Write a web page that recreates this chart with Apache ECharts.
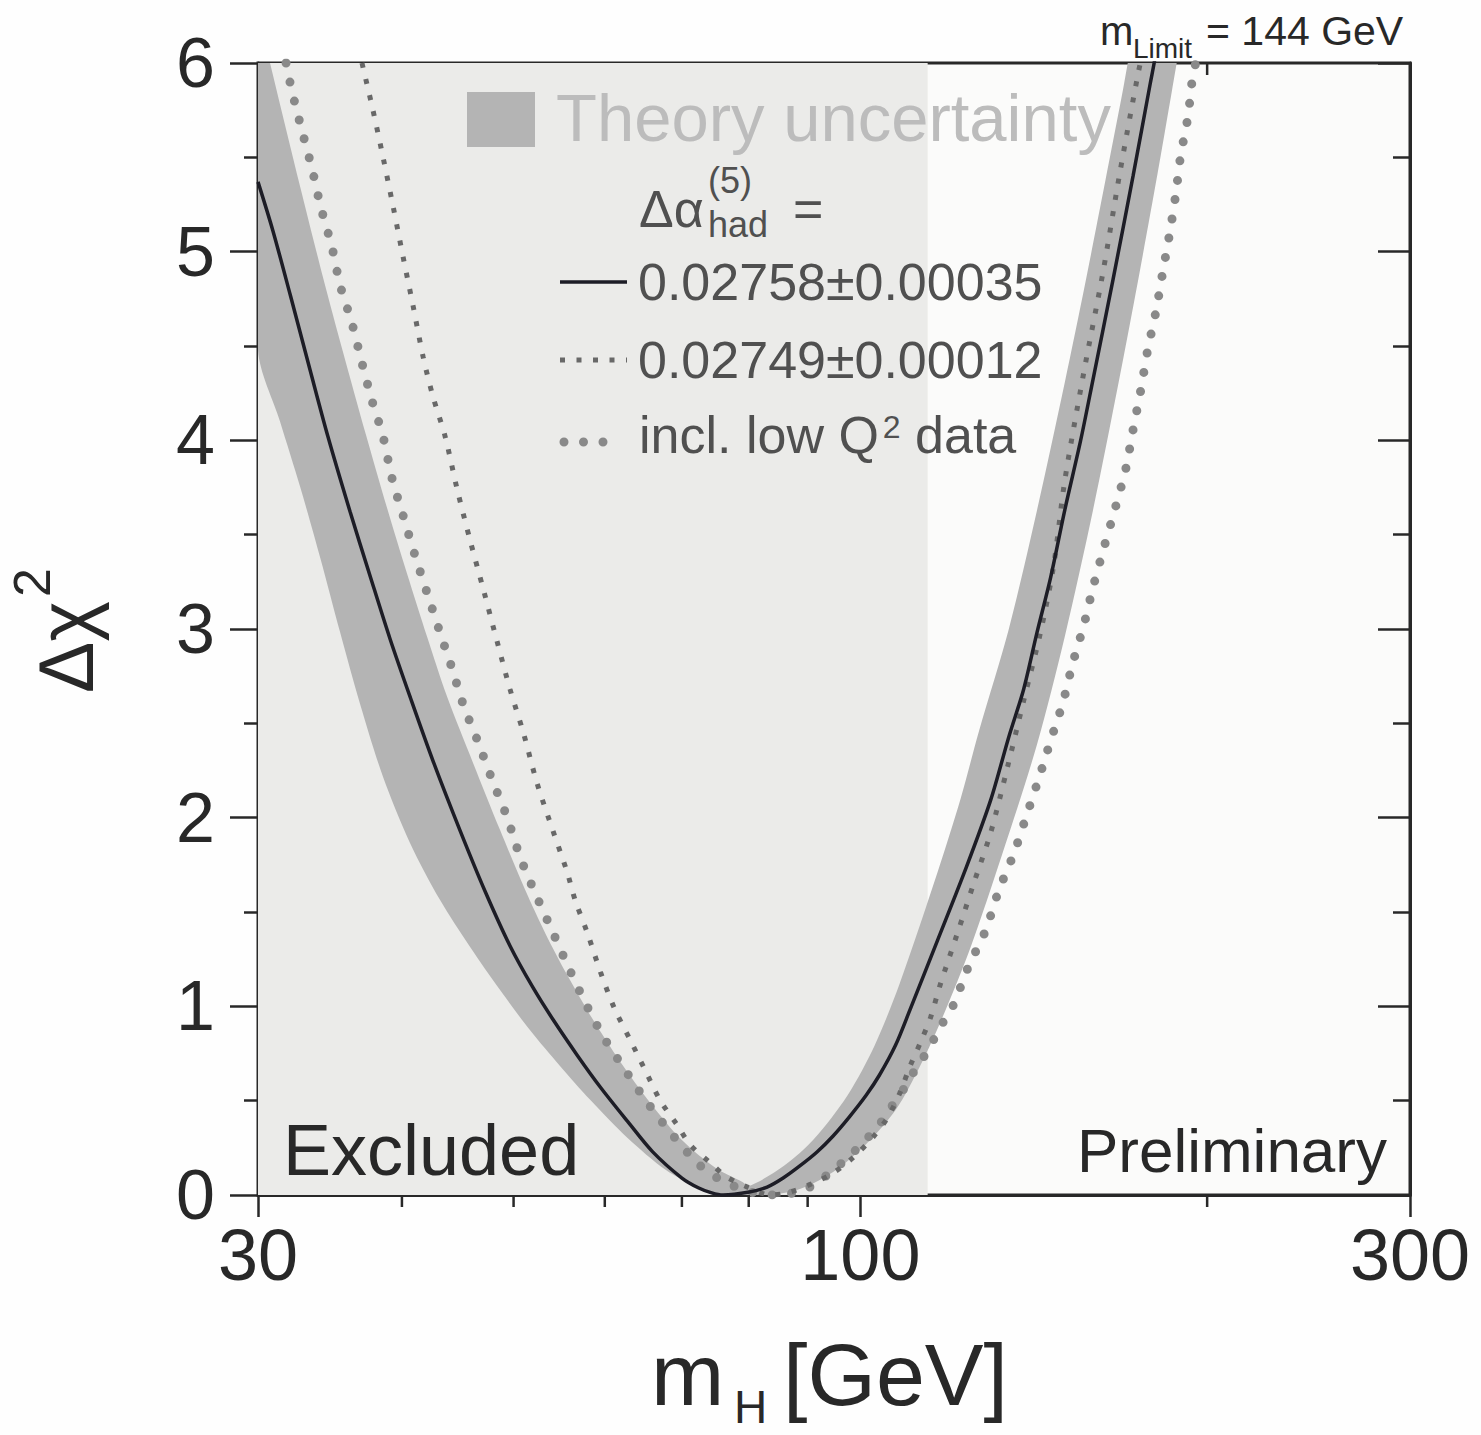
<!DOCTYPE html>
<html>
<head>
<meta charset="utf-8">
<title>Δχ² vs m_H</title>
<script src="https://cdn.jsdelivr.net/npm/echarts/dist/echarts.min.js"></script>
<style>
  html, body { margin: 0; padding: 0; background: #fefefe; }
  #chart { width: 1481px; height: 1435px; }
</style>
</head>
<body>
<div id="chart"></div>
<script>
// ---- axis ranges and ticks ----
const massRange = [30, 300];
const chi2Range = [0, 6];
const massLabels = [30, 100, 300];
const massMajorTicks = [30, 100, 300];
const massMinorTicks = [40, 50, 60, 70, 80, 90, 200];
const massTopTicks = [200];
const excludedRange = [30, 114.4];   // direct search exclusion, GeV

// ---- theory uncertainty band: upper and lower envelope [mH, Δχ²] ----
const bandUpper = [
  [30.0, 6.27], [30.73, 6.0], [32.65, 5.34], [34.16, 4.865], [35.56, 4.467], [37.23, 4.028],
  [38.83, 3.641], [40.42, 3.291], [42.07, 2.957], [43.79, 2.639], [46.12, 2.289], [48.67, 1.934],
  [51.18, 1.616], [53.27, 1.388], [55.66, 1.166], [58.63, 0.927], [61.9, 0.705], [65.72, 0.488],
  [70.0, 0.291], [74.9, 0.143], [79.0, 0.069], [80.1, 0.048], [85.9, 0.156], [91.06, 0.294],
  [97.45, 0.528], [102.9, 0.793], [108.2, 1.123], [116.7, 1.712], [122.2, 2.102], [126.8, 2.462],
  [134.5, 2.996], [142.3, 3.626], [150.5, 4.309], [156.7, 4.828], [163.1, 5.369], [169.0, 5.855],
  [170.7, 6.004], [172.0, 6.1]
];
const bandLower = [
  [30.0, 4.48], [31.35, 4.10], [32.65, 3.75], [34.0, 3.37], [35.36, 2.98], [36.8, 2.60],
  [38.5, 2.22], [40.66, 1.865], [43.17, 1.563], [45.84, 1.314], [48.67, 1.086], [51.66, 0.874],
  [54.86, 0.684], [58.3, 0.503], [62.8, 0.302], [67.8, 0.132], [72.4, 0.037], [74.9, 0.0],
  [83.0, 0.0], [88.6, 0.032], [94.7, 0.122], [101.0, 0.265], [107.3, 0.45], [112.79, 0.689],
  [117.9, 0.945], [124.7, 1.316], [132.8, 1.807], [142.3, 2.385], [150.5, 2.962], [159.2, 3.63],
  [167.4, 4.293], [174.3, 4.854], [181.1, 5.411], [185.9, 5.81], [188.2, 6.001], [189.5, 6.1]
];

// ---- Δα_had = 0.02758 ± 0.00035 (solid) ----
const fitCurve = [
  [30.0, 5.37], [30.91, 5.11], [32.0, 4.77], [33.3, 4.37], [34.5, 4.02], [36.07, 3.62],
  [37.54, 3.28], [39.05, 2.95], [40.66, 2.64], [42.57, 2.30], [44.94, 1.93], [47.23, 1.61],
  [49.65, 1.32], [51.97, 1.10], [54.1, 0.93], [56.8, 0.74], [59.5, 0.57], [62.8, 0.39],
  [66.0, 0.23], [70.0, 0.09], [72.4, 0.037], [74.3, 0.011], [76.0, 0.0], [80.1, 0.016],
  [83.0, 0.042], [85.7, 0.09], [88.6, 0.154], [91.7, 0.228], [94.7, 0.313], [97.8, 0.413],
  [101.2, 0.53], [103.9, 0.636], [107.3, 0.795], [110.4, 0.98], [116.7, 1.351], [123.6, 1.738],
  [129.75, 2.093], [134.6, 2.432], [138.6, 2.681], [142.3, 2.978], [146.3, 3.275], [150.5, 3.633],
  [155.3, 3.998], [159.2, 4.322], [165.7, 4.852], [172.5, 5.403], [178.6, 5.899], [179.9, 6.0],
  [181.0, 6.1]
];

// ---- Δα_had = 0.02749 ± 0.00012 (small dots) ----
const fitCurveAlt = [
  [36.93, 6.0], [37.75, 5.75], [38.52, 5.50], [39.3, 5.24], [40.1, 4.97], [40.91, 4.71],
  [41.74, 4.44], [42.57, 4.23], [43.61, 4.02], [44.67, 3.74], [45.84, 3.47], [47.07, 3.21],
  [48.4, 2.93], [49.65, 2.68], [50.99, 2.45], [52.42, 2.18], [54.1, 1.93], [55.66, 1.71],
  [56.57, 1.56], [57.94, 1.39], [59.5, 1.18], [61.16, 0.99], [63.15, 0.82], [65.06, 0.66],
  [67.05, 0.50], [69.36, 0.37], [71.19, 0.265], [74.11, 0.17], [76.36, 0.10], [79.79, 0.042],
  [83.55, 0.0], [86.97, 0.016], [91.06, 0.064], [94.7, 0.117], [98.63, 0.20], [102.67, 0.31],
  [105.59, 0.41], [108.2, 0.54], [110.4, 0.68], [112.79, 0.81], [115.05, 0.94], [117.38, 1.12],
  [121.45, 1.39], [125.4, 1.65], [129.75, 1.92], [134.22, 2.27], [138.6, 2.62], [143.32, 2.98],
  [147.1, 3.33], [150.5, 3.79], [156.3, 4.36], [162.4, 4.89], [168.0, 5.42], [174.3, 5.95],
  [176.5, 6.1]
];

// ---- including low-Q² data (large dots) ----
const fitCurveLowQ2 = [
  [31.73, 6.0], [32.11, 5.85], [32.76, 5.64], [33.42, 5.44], [34.0, 5.24], [34.79, 5.02],
  [35.36, 4.82], [36.2, 4.62], [36.93, 4.41], [37.68, 4.21], [38.52, 4.02], [39.21, 3.80],
  [40.1, 3.60], [41.06, 3.39], [42.07, 3.19], [43.17, 2.98], [44.22, 2.79], [45.21, 2.60],
  [46.58, 2.40], [47.91, 2.20], [49.37, 2.00], [50.67, 1.79], [52.21, 1.60], [54.01, 1.40],
  [55.77, 1.21], [57.7, 1.02], [59.81, 0.84], [62.53, 0.66], [65.33, 0.49], [68.66, 0.32],
  [72.18, 0.17], [74.9, 0.095], [77.58, 0.048], [80.1, 0.016], [84.39, 0.0], [88.2, 0.016],
  [91.06, 0.053], [94.7, 0.132], [97.65, 0.20], [100.6, 0.28], [103.5, 0.36], [106.2, 0.46],
  [109.0, 0.56], [111.2, 0.65], [113.46, 0.73], [115.7, 0.82], [118.1, 0.92], [120.5, 1.01],
  [124.1, 1.21], [128.4, 1.40], [131.8, 1.61], [135.9, 1.81], [139.2, 2.00], [142.9, 2.21],
  [146.3, 2.41], [149.9, 2.61], [152.9, 2.82], [156.3, 3.02], [159.2, 3.22], [162.7, 3.43],
  [166.6, 3.65], [170.0, 3.85], [172.4, 4.05], [175.2, 4.27], [177.6, 4.48], [180.5, 4.68],
  [183.0, 4.89], [185.6, 5.10], [187.8, 5.30], [189.7, 5.51], [192.4, 5.71], [194.4, 5.94],
  [195.5, 6.0]
];

// ---- styling ----
const FONT = '"Liberation Sans", Arial, Helvetica, sans-serif';
const INK = '#282828';
const colors = {
  plotBg: '#fbfbfa',
  excluded: '#ebebe9',
  band: '#b4b4b4',
  solid: '#1d1d26',
  smallDots: '#686868',
  bigDots: '#898989',
  legendText: '#505050',
  legendHeader: '#bcbcbc'
};
const solidStyle = { color: colors.solid, width: 3.5 };
const smallDotStyle = { color: colors.smallDots, width: 5, type: [5, 11.5], cap: 'butt' };
const bigDotStyle = { color: colors.bigDots, width: 9, type: [0, 19.5], cap: 'round' };

// text width, for placing the superscript in the legend
const measureCtx = document.createElement('canvas').getContext('2d');
function textWidth(text, size) {
  measureCtx.font = size + 'px ' + FONT;
  return measureCtx.measureText(text).width;
}

// baseline-positioned text helper (middle alignment offset from baseline)
function label(x, baseline, text, size, fill, align) {
  return {
    type: 'text', x: x, y: baseline - 0.35 * size, z: 100, silent: true,
    style: {
      text: text, font: size + 'px ' + FONT, fill: fill,
      align: align || 'left', textAlign: align || 'left',
      verticalAlign: 'middle', textVerticalAlign: 'middle'
    }
  };
}
function legendLine(x1, x2, y, st) {
  return {
    type: 'line', z: 100, silent: true,
    shape: { x1: x1, y1: y, x2: x2, y2: y },
    style: { stroke: st.color, lineWidth: st.width, lineDash: Array.isArray(st.type) ? st.type : null, lineCap: st.cap || 'butt' }
  };
}

const chart = echarts.init(document.getElementById('chart'), null, { renderer: 'svg' });

function tickRenderer(len) {
  return function (params, api) {
    const p = api.coord([api.value(0), api.value(1)]);
    return {
      type: 'line',
      shape: { x1: p[0], y1: p[1], x2: p[0], y2: p[1] + len },
      style: { stroke: INK, lineWidth: 2.5 }
    };
  };
}

// legend rows
const LEG = 52;
const lowQText = 'incl. low Q';
const lowQEnd = 639 + textWidth(lowQText, LEG);
const supEnd = lowQEnd + 4 + textWidth('2', 32);

const option = {
  animation: false,
  backgroundColor: '#fefefe',
  textStyle: { fontFamily: FONT },
  grid: {
    left: 258, right: 71, top: 63, bottom: 240,
    show: true, backgroundColor: colors.plotBg, borderColor: INK, borderWidth: 3
  },
  xAxis: {
    type: 'log', logBase: 10, min: massRange[0], max: massRange[1], position: 'bottom',
    axisLine: { show: true, onZero: false, lineStyle: { color: INK, width: 3 } },
    axisTick: { show: true, inside: false, length: 22, customValues: massMajorTicks, lineStyle: { color: INK, width: 2.5 } },
    axisLabel: { show: true, customValues: massLabels, fontSize: 72, color: INK, margin: 24, fontFamily: FONT },
    splitLine: { show: false }, minorTick: { show: false }, minorSplitLine: { show: false }
  },
  yAxis: [
    {
      type: 'value', min: chi2Range[0], max: chi2Range[1], interval: 1, position: 'left',
      axisLine: { show: true, onZero: false, lineStyle: { color: INK, width: 3 } },
      axisTick: { show: true, inside: false, length: 28, lineStyle: { color: INK, width: 2.5 } },
      minorTick: { show: true, splitNumber: 2, length: 14, lineStyle: { color: INK, width: 2.5 } },
      axisLabel: { fontSize: 70, color: INK, margin: 43, fontFamily: FONT },
      splitLine: { show: false }
    },
    {
      type: 'value', min: chi2Range[0], max: chi2Range[1], interval: 1, position: 'right',
      axisLine: { show: true, onZero: false, lineStyle: { color: INK, width: 3 } },
      axisTick: { show: true, inside: true, length: 32, lineStyle: { color: INK, width: 2.5 } },
      minorTick: { show: true, splitNumber: 2, length: 17, lineStyle: { color: INK, width: 2.5 } },
      axisLabel: { show: false },
      splitLine: { show: false }
    }
  ],
  series: [
    {
      // excluded mass region shading
      type: 'custom', name: 'Excluded', z: 1, silent: true,
      data: [[excludedRange[0], excludedRange[1], chi2Range[0], chi2Range[1]]],
      encode: { x: [0, 1], y: [2, 3] },
      renderItem: function (params, api) {
        const a = api.coord([api.value(0), api.value(3)]);
        const b = api.coord([api.value(1), api.value(2)]);
        return { type: 'rect', shape: { x: a[0], y: a[1], width: b[0] - a[0], height: b[1] - a[1] }, style: { fill: colors.excluded } };
      }
    },
    {
      // theory uncertainty band between the two envelopes
      type: 'custom', name: 'Theory uncertainty', z: 2, silent: true, clip: true,
      data: bandUpper, encode: { x: 0, y: 1 },
      renderItem: function (params, api) {
        if (params.dataIndex !== 0) return null;
        const pts = bandUpper.concat(bandLower.slice().reverse()).map(function (p) { return api.coord(p); });
        const cs = params.coordSys;
        return {
          type: 'polygon',
          shape: { points: pts, smooth: 0.3 },
          style: { fill: colors.band },
          clipPath: { type: 'rect', shape: { x: cs.x, y: cs.y, width: cs.width, height: cs.height } }
        };
      }
    },
    {
      type: 'line', name: 'incl. low Q2 data', data: fitCurveLowQ2, z: 3,
      showSymbol: false, symbol: 'none', smooth: 0.3, clip: true, silent: true,
      lineStyle: bigDotStyle
    },
    {
      type: 'line', name: '0.02749±0.00012', data: fitCurveAlt, z: 4,
      showSymbol: false, symbol: 'none', smooth: 0.3, clip: true, silent: true,
      lineStyle: smallDotStyle
    },
    {
      type: 'line', name: '0.02758±0.00035', data: fitCurve, z: 5,
      showSymbol: false, symbol: 'none', smooth: 0.3, clip: true, silent: true,
      lineStyle: solidStyle
    },
    {
      // short minor ticks along the bottom mass axis
      type: 'custom', name: 'minor ticks', z: 6, silent: true, clip: false,
      data: massMinorTicks.map(function (v) { return [v, chi2Range[0]]; }),
      encode: { x: 0, y: 1 },
      renderItem: tickRenderer(12)
    },
    {
      // tick hanging from the top frame
      type: 'custom', name: 'top ticks', z: 6, silent: true, clip: false,
      data: massTopTicks.map(function (v) { return [v, chi2Range[1]]; }),
      encode: { x: 0, y: 1 },
      renderItem: tickRenderer(12)
    }
  ],
  graphic: [
    // legend
    { type: 'rect', z: 100, silent: true, shape: { x: 467, y: 92, width: 68, height: 55 }, style: { fill: colors.band } },
    label(556, 141, 'Theory uncertainty', 67, colors.legendHeader),
    label(639, 227, 'Δα', LEG, colors.legendText),
    label(708, 193, '(5)', 36, colors.legendText),
    label(708, 237, 'had', 36, colors.legendText),
    label(793, 227, '=', LEG, colors.legendText),
    legendLine(560, 627, 282, solidStyle),
    label(638, 300, '0.02758±0.00035', LEG, colors.legendText),
    legendLine(560, 627, 360, smallDotStyle),
    label(638, 378, '0.02749±0.00012', LEG, colors.legendText),
    legendLine(564, 604, 442, bigDotStyle),
    label(639, 453, lowQText, LEG, colors.legendText),
    label(lowQEnd + 4, 438, '2', 32, colors.legendText),
    label(supEnd, 453, ' data', LEG, colors.legendText),
    // region annotations
    label(283, 1175, 'Excluded', 72, INK),
    label(1387, 1172, 'Preliminary', 62, INK, 'right'),
    // limit annotation above the frame
    label(1100, 45, 'm', 40, INK),
    label(1133, 58, 'Limit', 28, INK),
    label(1206, 45, '= 144 GeV', 41, INK),
    // x axis title
    label(651, 1405, 'm', 88, INK),
    label(734, 1423, 'H', 46, INK),
    label(783, 1405, '[GeV]', 88, INK),
    // y axis title (rotated, reads bottom to top)
    {
      type: 'group', x: 93, y: 630, rotation: Math.PI / 2, z: 100, silent: true,
      children: [
        label(-63, 0, 'Δχ', 77, INK),
        label(33, -43, '2', 52, INK)
      ]
    }
  ]
};

chart.setOption(option);
</script>
</body>
</html>
